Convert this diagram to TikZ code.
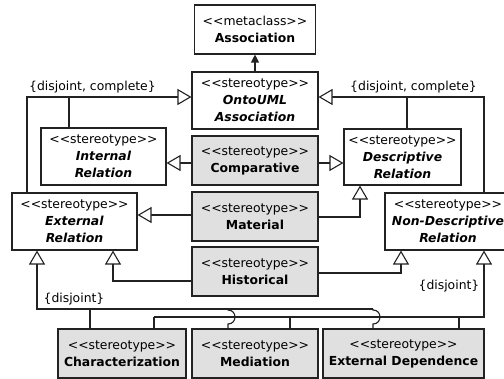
\documentclass[tikz,border=0pt]{standalone}
\usepackage{fontspec}
\newfontfamily\umlfont{DejaVu Sans}
\usetikzlibrary{arrows.meta}
\definecolor{boxgray}{HTML}{E0E0E0}
\definecolor{linec}{HTML}{222222}
\begin{document}
\begin{tikzpicture}[x=1pt,y=-1pt,
 every node/.style={font=\umlfont\fontsize{12.4}{17}\selectfont},
 cls/.style={draw=linec, line width=1.1pt, fill=white, align=center, inner sep=0pt},
 concrete/.style={cls, fill=boxgray},
 conn/.style={draw=linec, line width=1.1pt},
 gen/.style={conn, -{Triangle[open, length=14pt, width=16pt, fill=white]}},
 lbl/.style={inner sep=0pt}
]
\useasboundingbox (0,0) rectangle (504,379);

\node[cls, minimum width=121pt, minimum height=49pt] (assoc) at (255,29.5) {<<metaclass>>\\\textbf{Association}};
\node[cls, minimum width=126pt, minimum height=57pt] (onto) at (255,100.5) {<<stereotype>>\\\textbf{\textit{OntoUML}}\\\textbf{\textit{Association}}};
\node[cls, minimum width=125pt, minimum height=57pt] (internal) at (103.5,156.5) {<<stereotype>>\\\textbf{\textit{Internal}}\\\textbf{\textit{Relation}}};
\node[concrete, minimum width=126pt, minimum height=49pt] (comparative) at (255,160.5) {<<stereotype>>\\\textbf{Comparative}};
\node[cls, minimum width=117pt, minimum height=56pt] (descriptive) at (402.5,157) {<<stereotype>>\\\textbf{\textit{Descriptive}}\\\textbf{\textit{Relation}}};
\node[cls, minimum width=125pt, minimum height=57pt] (external) at (74.5,221.5) {<<stereotype>>\\\textbf{\textit{External}}\\\textbf{\textit{Relation}}};
\node[concrete, minimum width=126pt, minimum height=49pt] (material) at (255,216.5) {<<stereotype>>\\\textbf{Material}};
\node[cls, minimum width=126pt, minimum height=57pt] (nondesc) at (448,221.5) {<<stereotype>>\\\textbf{\textit{Non-Descriptive}}\\\textbf{\textit{Relation}}};
\node[concrete, minimum width=126pt, minimum height=49pt] (historical) at (255,271.5) {<<stereotype>>\\\textbf{Historical}};
\node[concrete, minimum width=128pt, minimum height=49pt] (charact) at (122,353.5) {<<stereotype>>\\\textbf{Characterization}};
\node[concrete, minimum width=126pt, minimum height=49pt] (mediation) at (255,353.5) {<<stereotype>>\\\textbf{Mediation}};
\node[concrete, minimum width=161pt, minimum height=49pt] (extdep) at (403.5,353.5) {<<stereotype>>\\\textbf{External Dependence}};

% OntoUML Association -> Association
\draw[conn, -{Triangle[length=8pt, width=8pt]}] (onto.north) -- (assoc.south);

% top generalization sets
\draw[gen] (external.north -| 27,0) -- (27,97) -- (onto.west |- 0,97);
\draw[conn] (internal.north -| 69,0) -- (69,97);
\node[lbl, anchor=base west] (dcl) at (29,91) {\{disjoint, complete\}};

\draw[gen] (nondesc.north -| 484,0) -- (484,97) -- (onto.east |- 0,97);
\draw[conn] (descriptive.north -| 407,0) -- (407,97);
\node[lbl, anchor=base east] (dcr) at (477,91) {\{disjoint, complete\}};

% middle generalizations
\draw[gen] (comparative.west |- 0,163) -- (internal.east |- 0,163);
\draw[gen] (comparative.east |- 0,163) -- (descriptive.west |- 0,163);
\draw[gen] (material.west |- 0,215) -- (external.east |- 0,215);
\draw[gen] (material.east |- 0,217) -- (360,217) -- (descriptive.south -| 360,0);
\draw[gen] (historical.west |- 0,281) -- (113,281) -- (external.south -| 113,0);
\draw[gen] (historical.east |- 0,273) -- (401,273) -- (nondesc.south -| 401,0);

% External Relation {disjoint}
\draw[gen] (373,309) -- (37,309) -- (external.south -| 37,0);
\draw[conn] (90,309) -- (charact.north -| 90,0);
\draw[conn] (228,309) -- (228,310) .. controls (237.3,310) and (237.3,324) .. (228,324) -- (mediation.north -| 228,0);
\draw[conn] (373,309) -- (373,310) .. controls (382.3,310) and (382.3,324) .. (373,324) -- (extdep.north -| 373,0);
\node[lbl] (djl) at (74,299) {\{disjoint\}};

% Non-Descriptive Relation {disjoint}
\draw[gen] (154,317) -- (484,317) -- (nondesc.south -| 484,0);
\draw[conn] (154,317) -- (charact.north -| 154,0);
\draw[conn] (290,317) -- (mediation.north -| 290,0);
\draw[conn] (459,317) -- (extdep.north -| 459,0);
\node[lbl] (djr) at (449,286) {\{disjoint\}};
\end{tikzpicture}
\end{document}
